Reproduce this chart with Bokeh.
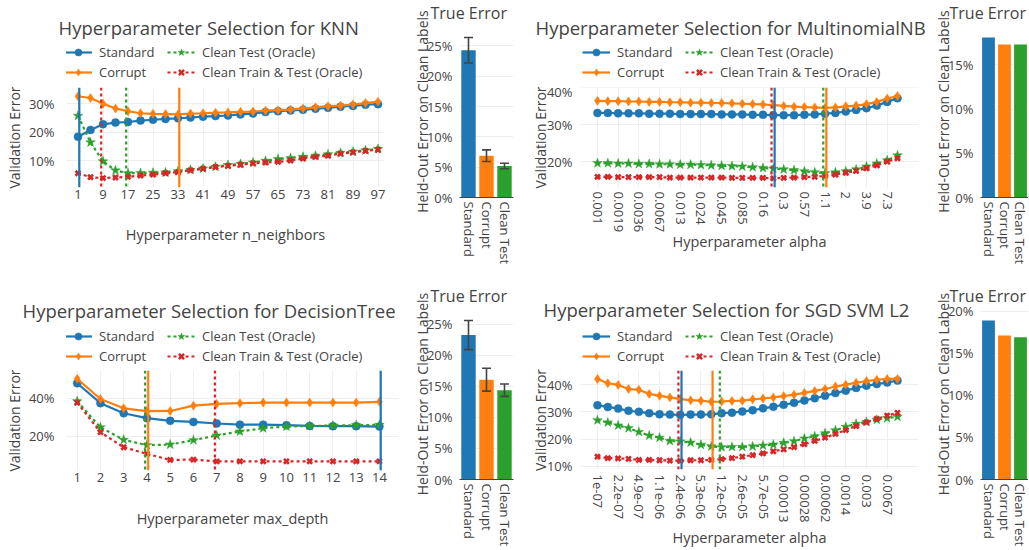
import math
from bokeh.plotting import figure
from bokeh.layouts import column, row
from bokeh.models import (Span, Title, Legend, LegendItem, FixedTicker, SingleIntervalTicker,
                          PrintfTickFormatter, Range1d, FactorRange, Whisker, TeeHead,
                          ColumnDataSource)
from bokeh.embed import file_html
from bokeh.resources import INLINE

# ---------------------------------------------------------------- data
series_names = ["Standard", "Corrupt", "Clean Test (Oracle)", "Clean Train & Test (Oracle)"]
bar_categories = ["Standard", "Corrupt", "Clean Test"]

# KNN
knn_n_neighbors = [1, 5, 9, 13, 17, 21, 25, 29, 33, 37, 41, 45, 49, 53, 57, 61, 65, 69, 73, 77, 81, 85, 89, 93, 97]
knn_standard = [18.4, 20.8, 22.8, 23.4, 23.6, 24.1, 24.4, 24.7, 24.9, 25.2, 25.5, 25.7, 25.9, 26.3, 26.6, 27.1, 27.4, 27.7, 27.9, 28.3, 28.6, 29.0, 29.3, 29.7, 29.9]
knn_corrupt = [32.7, 32.1, 30.1, 28.4, 27.4, 26.7, 26.5, 26.4, 26.3, 26.6, 26.7, 26.9, 27.0, 27.2, 27.3, 27.6, 27.8, 28.0, 28.4, 28.8, 29.2, 29.4, 29.8, 30.3, 30.8]
knn_clean_test = [25.8, 16.4, 9.7, 6.5, 5.5, 5.6, 5.7, 5.8, 6.2, 6.7, 7.2, 7.8, 8.4, 8.8, 9.3, 9.9, 10.5, 10.9, 11.3, 11.7, 12.2, 12.7, 13.1, 13.6, 14.1]
knn_clean_train = [5.5, 4.1, 3.8, 4.0, 4.2, 4.7, 5.0, 5.5, 5.9, 6.5, 7.1, 7.7, 8.1, 8.5, 9.0, 9.3, 9.5, 10.0, 10.7, 11.3, 11.7, 12.4, 12.9, 13.4, 13.8]
knn_bar = [24.3, 6.9, 5.2]
knn_bar_err = [2.1, 0.95, 0.45]

# MultinomialNB
mnb_alpha = ["0.001", "0.0014", "0.0019", "0.0026", "0.0036", "0.0049", "0.0067", "0.0092", "0.013", "0.017",
             "0.024", "0.033", "0.045", "0.062", "0.085", "0.12", "0.16", "0.22", "0.3", "0.42",
             "0.57", "0.79", "1.1", "1.5", "2", "2.8", "3.9", "5.3", "7.3", "10"]
mnb_standard = [33.2, 33.2, 33.1, 33.1, 33.1, 33.0, 33.0, 33.0, 32.9, 32.9, 32.9, 32.9, 32.8, 32.8, 32.8, 32.7, 32.7, 32.6, 32.6, 32.6, 32.7, 32.8, 33.0, 33.2, 33.6, 34.0, 34.5, 35.2, 36.2, 37.2]
mnb_corrupt = [36.5, 36.4, 36.4, 36.3, 36.3, 36.2, 36.2, 36.1, 36.1, 36.0, 36.0, 35.9, 35.9, 35.8, 35.7, 35.6, 35.5, 35.3, 35.1, 34.9, 34.8, 34.7, 34.6, 34.7, 35.0, 35.2, 35.6, 36.2, 37.1, 37.8]
mnb_clean_test = [19.6, 19.6, 19.5, 19.5, 19.4, 19.4, 19.3, 19.3, 19.2, 19.2, 19.1, 19.0, 18.9, 18.8, 18.7, 18.5, 18.3, 18.1, 17.9, 17.7, 17.4, 17.1, 16.9, 17.1, 17.4, 17.9, 18.7, 19.5, 20.4, 21.7]
mnb_clean_train = [15.9, 15.9, 15.8, 15.8, 15.8, 15.8, 15.8, 15.7, 15.7, 15.7, 15.7, 15.7, 15.7, 15.6, 15.6, 15.6, 15.6, 15.5, 15.6, 15.7, 15.8, 15.9, 16.1, 16.5, 17.0, 17.5, 18.2, 19.0, 20.0, 20.9]
mnb_bar = [18.1, 17.3, 17.3]
mnb_bar_err = None

# DecisionTree
dt_max_depth = [1, 2, 3, 4, 5, 6, 7, 8, 9, 10, 11, 12, 13, 14]
dt_standard = [47.9, 37.4, 32.1, 29.5, 28.1, 27.5, 26.7, 26.1, 26.1, 25.8, 25.4, 25.3, 25.3, 25.1]
dt_corrupt = [50.2, 39.6, 34.7, 33.2, 33.3, 36.1, 37.0, 37.4, 37.7, 37.7, 37.7, 37.7, 37.7, 38.1]
dt_clean_test = [38.4, 24.7, 18.1, 15.3, 15.6, 17.9, 20.4, 22.5, 24.2, 25.1, 25.4, 25.6, 25.8, 26.0]
dt_clean_train = [37.7, 22.1, 14.2, 10.7, 7.5, 7.7, 6.7, 6.8, 6.8, 6.8, 6.8, 6.8, 6.8, 6.8]
dt_bar = [23.3, 16.1, 14.4]
dt_bar_err = [2.35, 1.85, 1.0]

# SGD SVM L2
sgd_alpha = ["1e-07", "1.5e-07", "2.2e-07", "3.3e-07", "4.9e-07", "7.3e-07", "1.1e-06", "1.6e-06", "2.4e-06", "3.6e-06",
             "5.3e-06", "7.9e-06", "1.2e-05", "1.7e-05", "2.6e-05", "3.9e-05", "5.7e-05", "8.5e-05", "0.00013", "0.00019",
             "0.00028", "0.00042", "0.00062", "0.00092", "0.0014", "0.002", "0.003", "0.0045", "0.0067", "0.01"]
sgd_standard = [32.4, 31.8, 31.2, 30.4, 30.0, 29.5, 29.1, 29.0, 28.9, 29.0, 29.0, 29.1, 29.5, 29.7, 30.1, 30.6, 31.3, 31.9, 32.6, 33.3, 34.2, 35.0, 35.9, 36.9, 37.8, 38.8, 39.6, 40.2, 40.8, 41.5]
sgd_corrupt = [42.1, 40.5, 39.9, 38.4, 38.1, 36.6, 35.9, 35.3, 34.7, 34.3, 34.1, 33.7, 33.8, 34.0, 34.1, 34.6, 34.9, 35.3, 35.8, 36.3, 37.0, 37.7, 38.4, 39.3, 40.0, 40.7, 41.3, 41.8, 42.1, 42.1]
sgd_clean_test = [26.9, 26.1, 25.0, 24.0, 22.6, 21.3, 20.5, 19.3, 19.1, 18.7, 17.9, 17.3, 17.0, 17.1, 17.1, 17.3, 17.6, 18.0, 18.6, 19.2, 20.2, 21.0, 22.1, 23.2, 24.5, 25.6, 26.3, 27.1, 27.7, 28.2]
sgd_clean_train = [13.5, 13.0, 12.9, 12.7, 12.3, 12.3, 12.2, 12.1, 12.0, 12.2, 12.2, 12.3, 12.6, 13.0, 13.5, 14.1, 14.7, 15.5, 16.2, 17.0, 18.1, 19.3, 20.5, 21.9, 23.3, 24.8, 26.1, 27.4, 28.6, 29.6]
sgd_bar = [18.9, 17.1, 16.9]
sgd_bar_err = None

# ---------------------------------------------------------------- style
FONT = "Open Sans"
TXT = "#444444"
GRID = "#eeeeee"
series_style = [
    dict(color="#1f77b4", dash="solid", marker="circle", size=8, dodge=1.3),
    dict(color="#ff7f0e", dash="solid", marker="diamond", size=9, dodge=1.3),
    dict(color="#2ca02c", dash="3 3", marker="star", size=10, dodge=-1.8),
    dict(color="#d62728", dash="3 3", marker="x", size=7, dodge=-1.8),
]
bar_colors = ["#1f77b4", "#ff7f0e", "#2ca02c"]


def add_series(p, src, st):
    ln = p.line("x", "y", source=src, line_color=st["color"], line_width=2.2, line_dash=st["dash"])
    if st["marker"] == "x":
        mk = p.scatter("x", "y", source=src, marker="x", size=st["size"],
                       line_color=st["color"], line_width=2.6)
    else:
        mk = p.scatter("x", "y", source=src, marker=st["marker"], size=st["size"],
                       fill_color=st["color"], line_color=st["color"], line_width=0.5)
    return ln, mk


def style_axis(ax, size="13px", title_size="14.5px"):
    ax.axis_line_color = None
    ax.major_tick_line_color = None
    ax.minor_tick_line_color = None
    ax.major_tick_out = 0
    ax.major_tick_in = 0
    ax.major_label_text_font = FONT
    ax.major_label_text_font_size = size
    ax.major_label_text_color = TXT
    ax.axis_label_text_font = FONT
    ax.axis_label_text_font_size = title_size
    ax.axis_label_text_font_style = "normal"
    ax.axis_label_text_color = TXT


def header(width, height, top, title, title_dx, legend_x, legend_y):
    """Strip above a line panel holding its title and legend."""
    h = figure(width=width, height=height, x_range=Range1d(0, 1), y_range=Range1d(0, 1),
               x_axis_type=None, y_axis_type=None, output_backend="svg", toolbar_location=None,
               min_border_left=0, min_border_right=0, min_border_bottom=0, min_border_top=top,
               title=None)
    h.outline_line_color = None
    h.add_layout(Title(text=title, align="left", offset=title_dx, vertical_align="bottom", standoff=0,
                       text_font=FONT, text_font_size="18.5px", text_font_style="normal",
                       text_color=TXT), "above")
    items = []
    for name, st in zip(series_names, series_style):
        dummy = ColumnDataSource(dict(x=[math.nan], y=[math.nan]))
        ln, mk = add_series(h, dummy, st)
        items.append(LegendItem(label=name, renderers=[ln, mk]))
    leg = Legend(items=items, location=(legend_x, legend_y), orientation="vertical", nrows=2,
                 label_text_font=FONT, label_text_font_size="13px", label_text_color=TXT,
                 glyph_width=28, glyph_height=18, label_height=18, label_standoff=7,
                 label_width=66, spacing=2, padding=0, margin=0,
                 border_line_alpha=0, background_fill_alpha=0)
    h.add_layout(leg)
    return h


def line_panel(x_title, xs, ys_list, x_range, y_range, y_step, tick_vals, tick_labels,
               width, height, mbl, mbr, mbt, mbb, rotate, ytick_so, ytitle_so, xtick_so, xtitle_so):
    fw = width - mbl - mbr
    p = figure(width=width, height=height, x_range=Range1d(*x_range), y_range=Range1d(*y_range),
               output_backend="svg", toolbar_location=None, title=None,
               min_border_left=mbl, min_border_right=mbr, min_border_top=mbt, min_border_bottom=mbb)
    p.outline_line_color = None
    for ys, st in zip(ys_list, series_style):
        add_series(p, ColumnDataSource(dict(x=xs, y=ys)), st)
    ppu = fw / (x_range[1] - x_range[0])
    for ys, st in zip(ys_list, series_style):
        best = xs[ys.index(min(ys))]
        p.add_layout(Span(location=best + st["dodge"] / ppu, dimension="height",
                          line_color=st["color"], line_width=2.2, line_dash=st["dash"]))
    p.xaxis.ticker = FixedTicker(ticks=tick_vals)
    if tick_labels is not None:
        p.xaxis.major_label_overrides = {v: s for v, s in zip(tick_vals, tick_labels)}
    if rotate:
        p.xaxis.major_label_orientation = -math.pi / 2
    p.yaxis.ticker = SingleIntervalTicker(interval=y_step)
    p.yaxis.formatter = PrintfTickFormatter(format="%d%%")
    style_axis(p.xaxis[0])
    style_axis(p.yaxis[0], title_size="14px")
    p.xaxis.axis_label = x_title
    p.yaxis.axis_label = "Validation Error"
    p.yaxis.major_label_standoff = ytick_so
    p.yaxis.axis_label_standoff = ytitle_so
    p.xaxis.major_label_standoff = xtick_so
    p.xaxis.axis_label_standoff = xtitle_so
    p.xgrid.grid_line_color = GRID
    p.ygrid.grid_line_color = GRID
    return p


REF_BAR_FRAME = 168   # plot height over which the bars span 0 .. 1.05 * max


def bar_panel(vals, errs, width, height, mbl, mbr, mbt, mbb, title_dx):
    hi_all = [v + (errs[i] if errs else 0) for i, v in enumerate(vals)]
    fh = height - mbt - mbb
    p = figure(width=width, height=height, x_range=FactorRange(factors=bar_categories),
               y_range=Range1d(0, max(hi_all) * 1.05 * fh / REF_BAR_FRAME),
               output_backend="svg", toolbar_location=None, title=None,
               min_border_left=mbl, min_border_right=mbr, min_border_top=mbt, min_border_bottom=mbb)
    p.outline_line_color = None
    src = ColumnDataSource(dict(cat=bar_categories, val=vals, color=bar_colors))
    p.vbar(x="cat", top="val", width=0.8, fill_color="color", line_color=None, source=src)
    if errs:
        esrc = ColumnDataSource(dict(cat=bar_categories,
                                     lo=[v - e for v, e in zip(vals, errs)],
                                     hi=[v + e for v, e in zip(vals, errs)]))
        p.add_layout(Whisker(source=esrc, base="cat", upper="hi", lower="lo", level="overlay",
                             line_color=TXT, line_width=1.6,
                             upper_head=TeeHead(size=9, line_color=TXT, line_width=1.6),
                             lower_head=TeeHead(size=9, line_color=TXT, line_width=1.6)))
    p.yaxis.ticker = SingleIntervalTicker(interval=5)
    p.yaxis.formatter = PrintfTickFormatter(format="%d%%")
    style_axis(p.xaxis[0])
    style_axis(p.yaxis[0], title_size="14px")
    p.xaxis.axis_line_color = TXT
    p.xaxis.major_label_orientation = -math.pi / 2
    p.xaxis.major_label_standoff = 4
    p.yaxis.axis_label = "Held-Out Error on Clean Labels"
    p.yaxis.major_label_standoff = 3
    p.yaxis.axis_label_standoff = -8
    p.xgrid.grid_line_color = None
    p.ygrid.grid_line_color = GRID
    p.add_layout(Title(text="True Error", align="left", offset=title_dx, vertical_align="top", standoff=0,
                       text_font=FONT, text_font_size="16px", text_font_style="normal",
                       text_color=TXT), "above")
    return p


WA, WB, WC, WD = 408, 117, 405, 98

# ---- row 1
hA = header(WA, 82, 39, "Hyperparameter Selection for KNN", -8, -2, 1)
pA = line_panel("Hyperparameter n_neighbors", knn_n_neighbors,
                [knn_standard, knn_corrupt, knn_clean_test, knn_clean_train],
                (-2.68, 99.08), (0.46, 35.8), 10, knn_n_neighbors[::2], None,
                WA, 201, 66, 24, 5, 96, False, 8, 2, 2, 23)
pB = bar_panel(knn_bar, knn_bar_err, WB, 283, 51, 12, 25, 86, -29)
mnb_idx = list(range(len(mnb_alpha)))
hC = header(WC, 82, 39, "Hyperparameter Selection for MultinomialNB", -45, 2, 1)
pC = line_panel("Hyperparameter alpha", mnb_idx,
                [mnb_standard, mnb_corrupt, mnb_clean_test, mnb_clean_train],
                (-1.64, 31.03), (13.0, 40.1), 10, mnb_idx[::2], mnb_alpha[::2],
                WC, 201, 55, 12, 5, 96, True, 4, -6, 4, -3)
pD = bar_panel(mnb_bar, mnb_bar_err, WD, 283, 47, 0, 25, 86, -31)

# ---- row 2
hE = header(WA, 82, 39, "Hyperparameter Selection for DecisionTree", -44, -2, 0)
pE = line_panel("Hyperparameter max_depth", dt_max_depth,
                [dt_standard, dt_corrupt, dt_clean_test, dt_clean_train],
                (0.54, 14.82), (1.95, 54.6), 20, dt_max_depth, None,
                WA, 184, 66, 10, 5, 79, False, 8, 2, 2, 24)
pF = bar_panel(dt_bar, dt_bar_err, WB, 266, 51, 12, 25, 69, -29)
sgd_idx = list(range(len(sgd_alpha)))
hG = header(WC, 82, 38, "Hyperparameter Selection for SGD SVM L2", -37, 2, 0)
pG = line_panel("Hyperparameter alpha", sgd_idx,
                [sgd_standard, sgd_corrupt, sgd_clean_test, sgd_clean_train],
                (-1.64, 31.03), (8.8, 45.2), 10, sgd_idx[::2], sgd_alpha[::2],
                WC, 184, 55, 12, 5, 79, True, 4, -6, 5, 2)
pH = bar_panel(sgd_bar, sgd_bar_err, WD, 266, 47, 0, 25, 69, -31)

layout = column(row(column(hA, pA), pB, column(hC, pC), pD),
                row(column(hE, pE), pF, column(hG, pG), pH))

with open("out.html", "w") as f:
    f.write(file_html(layout, INLINE))
